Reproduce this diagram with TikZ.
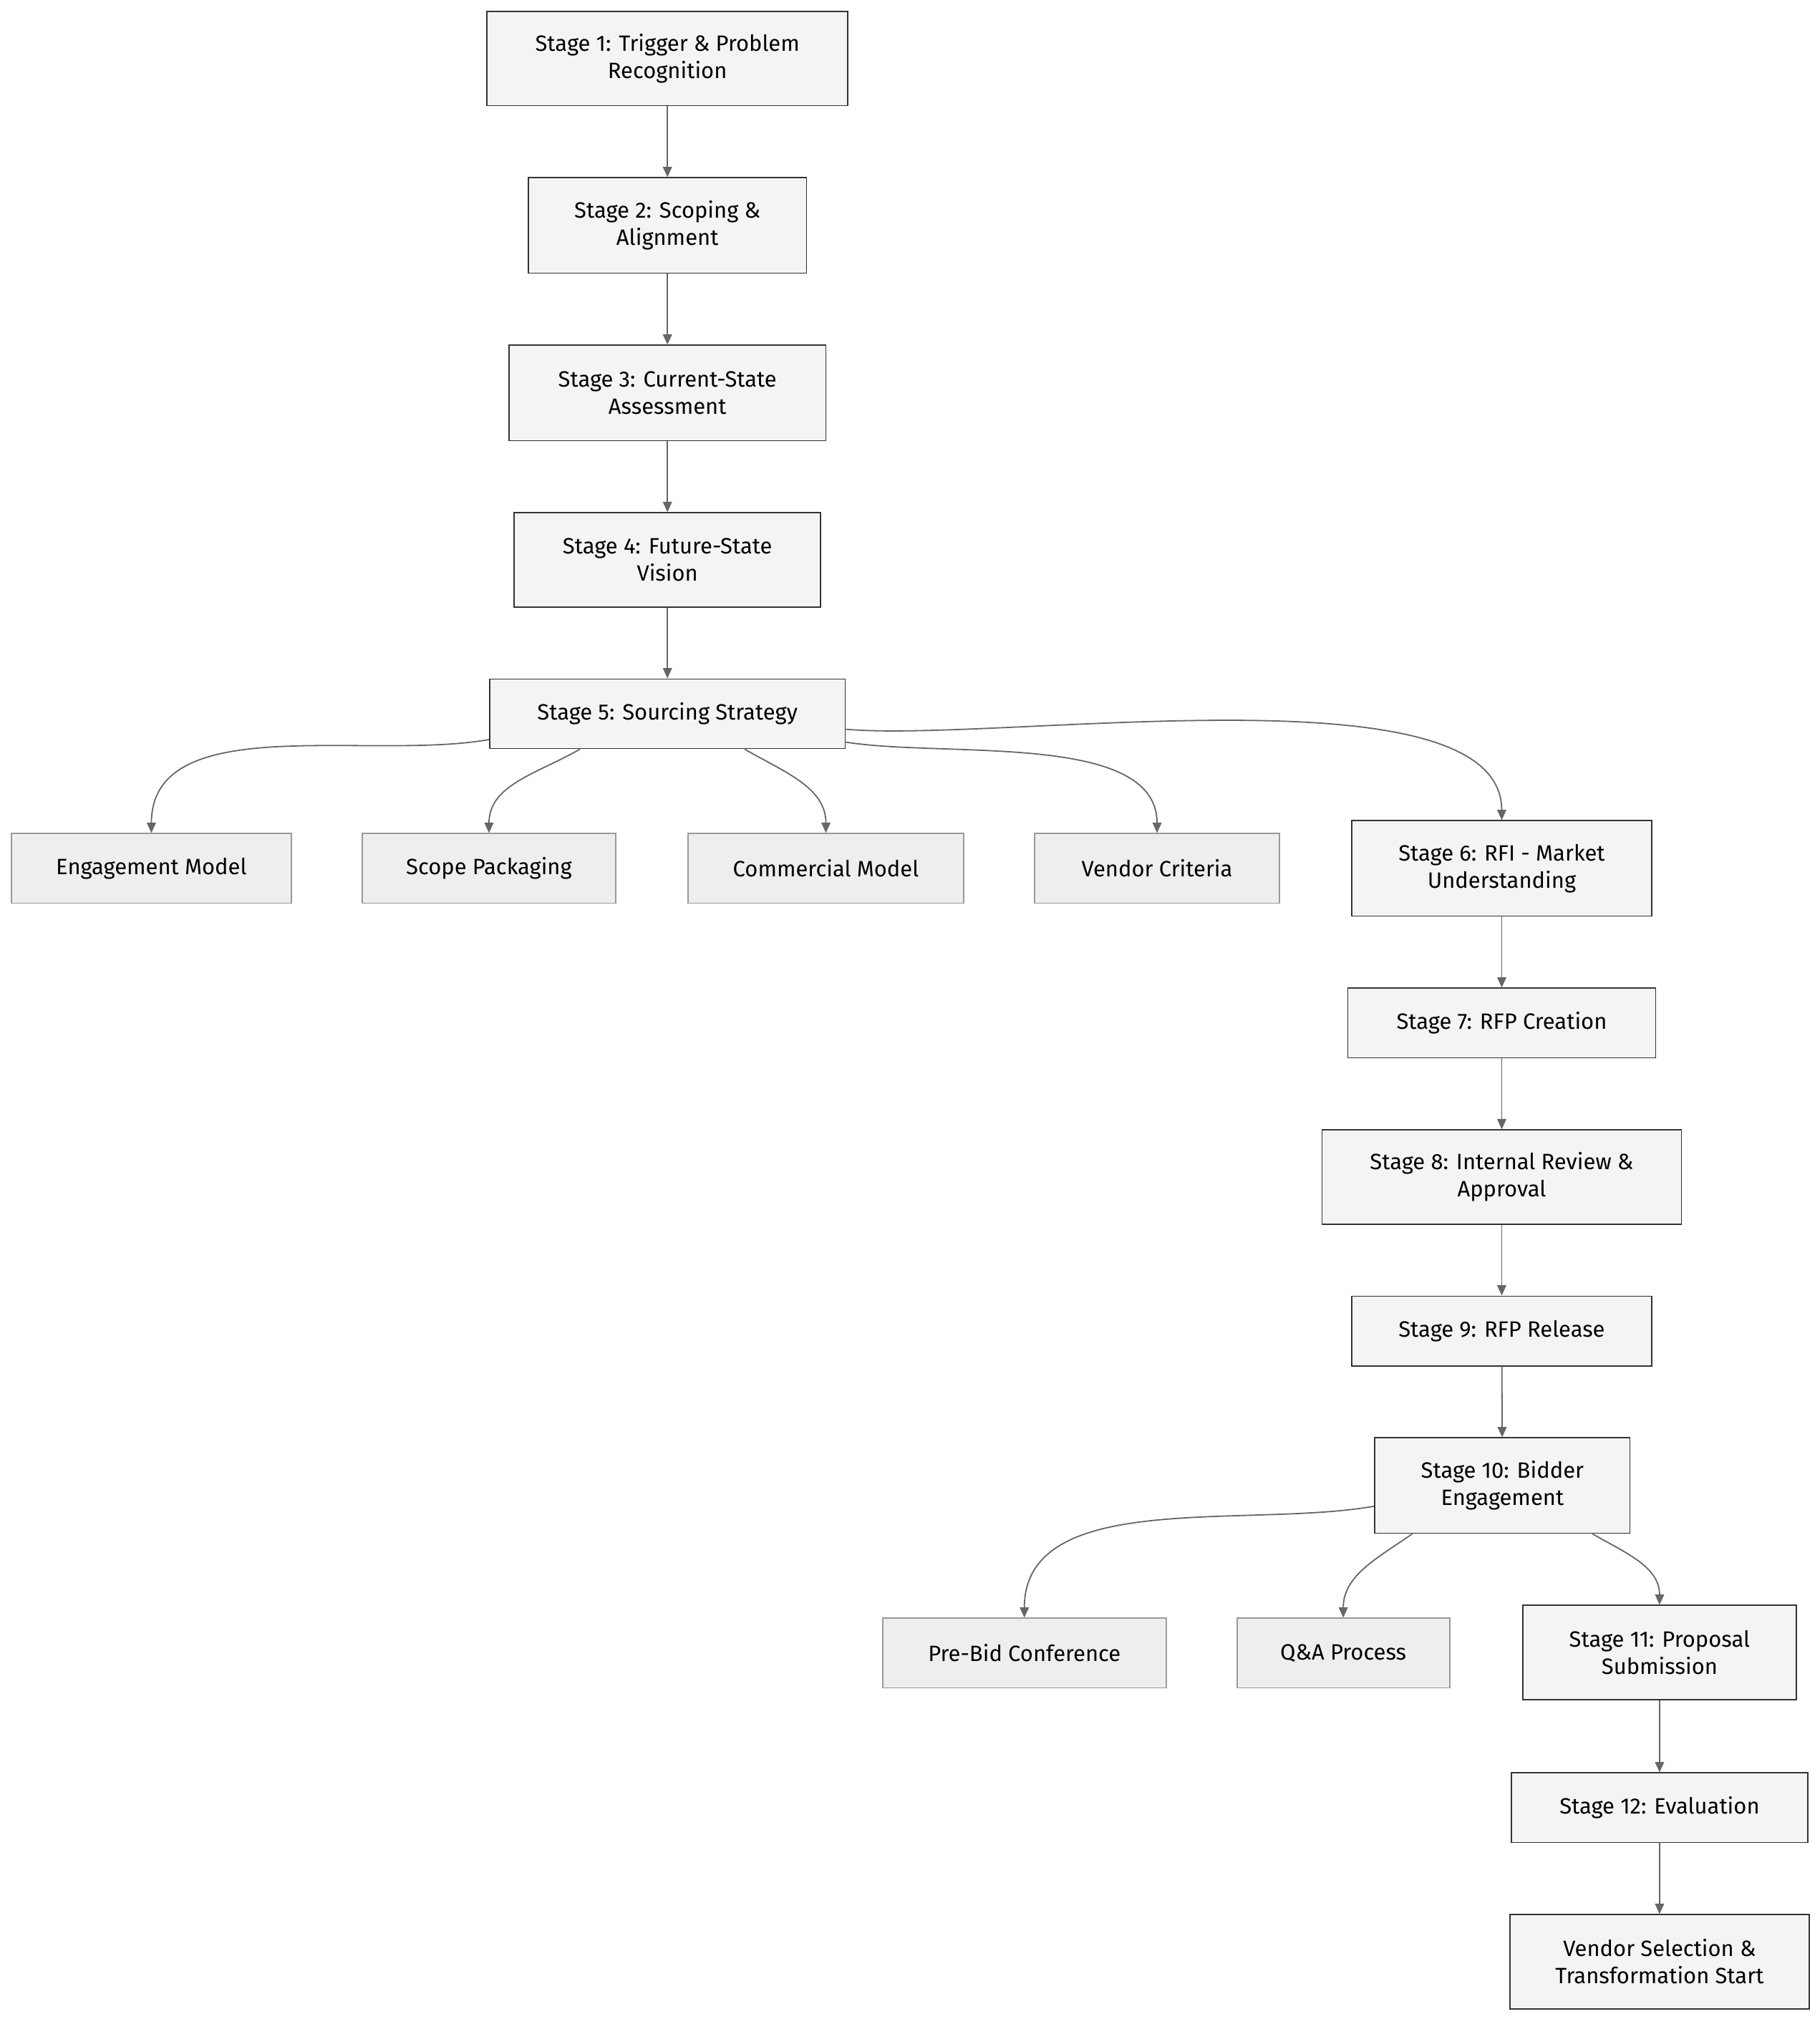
\documentclass[tikz,border=0pt]{standalone}
\usepackage{fontspec}
\setmainfont{Fira Sans}
\usetikzlibrary{arrows.meta}
\definecolor{mainfill}{HTML}{F4F4F4}
\definecolor{mainline}{HTML}{333333}
\definecolor{subfill}{HTML}{EEEEEE}
\definecolor{subline}{HTML}{999999}
\definecolor{edgecol}{HTML}{666666}
\tikzset{
	stage/.style={draw=mainline,fill=mainfill,line width=0.5pt,align=center,inner sep=0pt,font=\fontsize{8.6}{10.5}\selectfont},
	substage/.style={draw=subline,fill=subfill,line width=0.5pt,align=center,inner sep=0pt,minimum height=27pt,font=\fontsize{8.6}{10.5}\selectfont},
	edge/.style={draw=edgecol,line width=0.5pt,-{Triangle[length=4pt,width=3.5pt]}}
}
\begin{document}
\begin{tikzpicture}[x=0.5pt,y=-0.5pt]
	\useasboundingbox[fill=white] (0,0) rectangle (1412,1567);
	% main stages
	\node[stage,minimum width=140pt,minimum height=36.5pt] (s1) at (518,45.5) {Stage 1: Trigger \& Problem\\Recognition};
	\node[stage,minimum width=108pt,minimum height=37pt] (s2) at (518,175) {Stage 2: Scoping \&\\Alignment};
	\node[stage,minimum width=123pt,minimum height=37pt] (s3) at (518,305) {Stage 3: Current-State\\Assessment};
	\node[stage,minimum width=119pt,minimum height=36.5pt] (s4) at (518,434.5) {Stage 4: Future-State\\Vision};
	\node[stage,minimum width=138pt,minimum height=27pt] (s5) at (518,554) {Stage 5: Sourcing Strategy};
	% sourcing strategy parts
	\node[substage,minimum width=108.5pt] (em) at (117.5,674) {Engagement Model};
	\node[substage,minimum width=98.5pt] (sp) at (379.5,674) {Scope Packaging};
	\node[substage,minimum width=107pt] (cm) at (641,674) {Commercial Model};
	\node[substage,minimum width=95pt] (vc) at (898,674) {Vendor Criteria};
	\node[stage,minimum width=116.5pt,minimum height=37pt] (s6) at (1165.5,674) {Stage 6: RFI - Market\\Understanding};
	\node[stage,minimum width=119.5pt,minimum height=27pt] (s7) at (1165.5,794) {Stage 7: RFP Creation};
	\node[stage,minimum width=139.5pt,minimum height=36.5pt] (s8) at (1165.5,913.5) {Stage 8: Internal Review \&\\Approval};
	\node[stage,minimum width=116.5pt,minimum height=27pt] (s9) at (1165.5,1033) {Stage 9: RFP Release};
	\node[stage,minimum width=99pt,minimum height=37pt] (s10) at (1166,1153) {Stage 10: Bidder\\Engagement};
	% bidder engagement parts
	\node[substage,minimum width=110pt] (pb) at (795,1283) {Pre-Bid Conference};
	\node[substage,minimum width=82.5pt] (qa) at (1042.5,1283) {Q\&A Process};
	\node[stage,minimum width=106pt,minimum height=36.5pt] (s11) at (1288,1282.5) {Stage 11: Proposal\\Submission};
	\node[stage,minimum width=115pt,minimum height=27pt] (s12) at (1288,1403) {Stage 12: Evaluation};
	\node[stage,minimum width=116pt,minimum height=36.5pt] (vs) at (1288,1522.5) {Vendor Selection \&\\Transformation Start};
	% connectors
	\draw[edge] (s1) -- (s2);
	\draw[edge] (s2) -- (s3);
	\draw[edge] (s3) -- (s4);
	\draw[edge] (s4) -- (s5);
	\draw[edge] ([yshift=-10pt]s5.west) to[out=190,in=90,looseness=0.9] (em.north);
	\draw[edge] ([xshift=-34pt]s5.south) to[out=-150,in=90] (sp.north);
	\draw[edge] ([xshift=30pt]s5.south) to[out=-30,in=90] (cm.north);
	\draw[edge] ([yshift=-11pt]s5.east) to[out=-9,in=90,looseness=0.8] (vc.north);
	\draw[edge] ([yshift=-6pt]s5.east) to[out=-5,in=90,looseness=0.6] (s6.north);
	\draw[edge] (s6) -- (s7);
	\draw[edge] (s7) -- (s8);
	\draw[edge] (s8) -- (s9);
	\draw[edge] (s9) -- (s10);
	\draw[edge] ([yshift=-8pt]s10.west) to[out=190,in=90,looseness=0.9] (pb.north);
	\draw[edge] ([xshift=-35pt]s10.south) to[out=-145,in=90] (qa.north);
	\draw[edge] ([xshift=35pt]s10.south) to[out=-30,in=90] (s11.north);
	\draw[edge] (s11) -- (s12);
	\draw[edge] (s12) -- (vs);
\end{tikzpicture}
\end{document}
